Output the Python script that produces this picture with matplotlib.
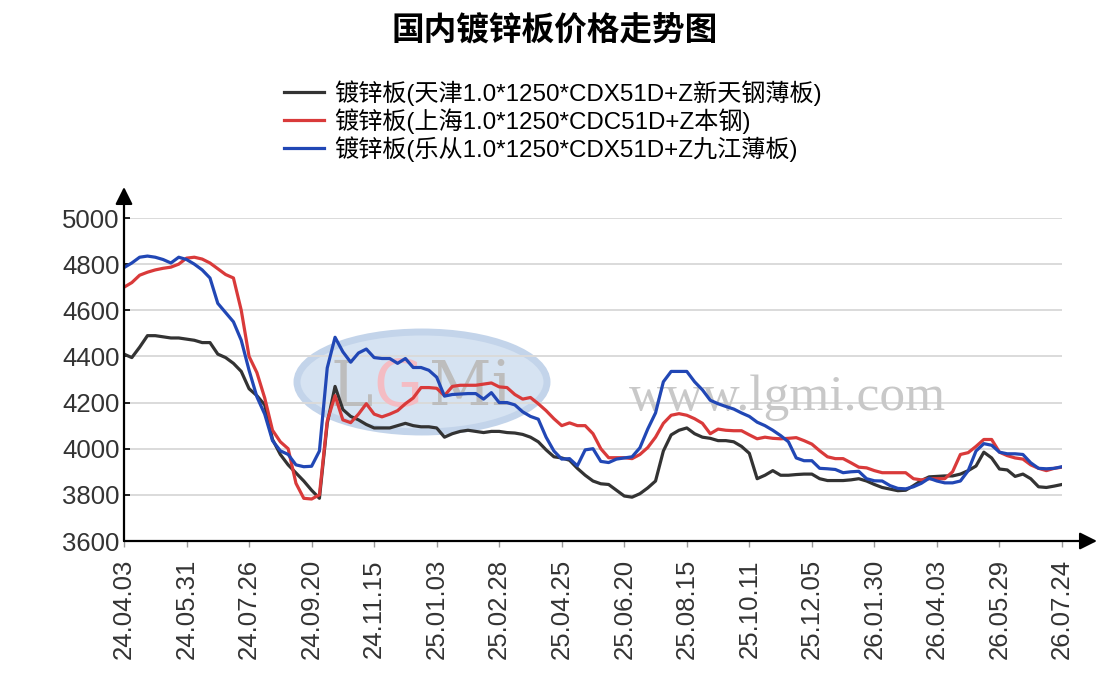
import matplotlib
matplotlib.use("Agg")
import matplotlib.pyplot as plt
from matplotlib.font_manager import FontProperties
from matplotlib.patches import Ellipse

# weekly prices, one point per week, 8 weeks between labelled ticks
tick_labels = ["24.04.03", "24.05.31", "24.07.26", "24.09.20", "24.11.15",
               "25.01.03", "25.02.28", "25.04.25", "25.06.20", "25.08.15",
               "25.10.11", "25.12.05", "26.01.30", "26.04.03", "26.05.29",
               "26.07.24"]

tianjin = [4410, 4395, 4440, 4490, 4490, 4485, 4480, 4480, 4475,
           4470, 4460, 4460, 4410, 4395, 4370, 4335, 4260,
           4230, 4190, 4040, 3975, 3930, 3895, 3860, 3820,
           3785, 4110, 4270, 4170, 4140, 4125, 4105, 4090,
           4090, 4090, 4100, 4110, 4100, 4095, 4095, 4090,
           4050, 4065, 4075, 4080, 4075, 4070, 4075, 4075,
           4070, 4068, 4062, 4050, 4030, 3995, 3965, 3960,
           3950, 3915, 3885, 3860, 3848, 3845, 3820, 3795,
           3790, 3805, 3830, 3860, 3990, 4060, 4080, 4090,
           4065, 4050, 4045, 4035, 4035, 4030, 4010, 3980,
           3870, 3885, 3905, 3885, 3885, 3888, 3890, 3890,
           3870, 3862, 3862, 3862, 3865, 3870, 3860, 3845,
           3832, 3825, 3818, 3820, 3840, 3862, 3878, 3880,
           3882, 3882, 3890, 3905, 3925, 3985, 3960, 3912,
           3908, 3880, 3890, 3870, 3835, 3832, 3838, 3845]

shanghai = [4700, 4720, 4752, 4765, 4775, 4782, 4787, 4800, 4826,
            4830, 4822, 4805, 4780, 4755, 4740, 4600, 4400,
            4330, 4220, 4080, 4030, 4000, 3850, 3785, 3782,
            3800, 4120, 4230, 4125, 4113, 4150, 4195, 4150,
            4138, 4150, 4165, 4195, 4220, 4265, 4265, 4262,
            4230, 4270, 4275, 4275, 4275, 4280, 4285, 4268,
            4265, 4235, 4215, 4222, 4195, 4165, 4130, 4100,
            4112, 4100, 4100, 4065, 4000, 3961, 3961, 3961,
            3957, 3975, 4005, 4050, 4110, 4145, 4152, 4145,
            4130, 4110, 4065, 4085, 4080, 4078, 4078, 4060,
            4043, 4050, 4045, 4043, 4045, 4048, 4035, 4020,
            3991, 3965, 3957, 3957, 3939, 3920, 3917, 3905,
            3896, 3896, 3896, 3896, 3870, 3865, 3870, 3870,
            3870, 3900, 3975, 3983, 4010, 4040, 4040, 3985,
            3970, 3960, 3955, 3930, 3915, 3905, 3915, 3920]

lecong = [4785, 4805, 4830, 4835, 4830, 4820, 4805, 4830, 4820,
          4800, 4775, 4740, 4630, 4590, 4550, 4470, 4340,
          4225, 4150, 4035, 3991, 3975, 3930, 3922, 3924,
          3990, 4350, 4483, 4420, 4375, 4415, 4432, 4395,
          4391, 4391, 4370, 4391, 4352, 4352, 4340, 4310,
          4228, 4235, 4237, 4239, 4239, 4215, 4243, 4200,
          4200, 4190, 4160, 4140, 4128, 4050, 3990, 3955,
          3957, 3926, 3995, 4000, 3945, 3940, 3955, 3960,
          3965, 4004, 4085, 4155, 4290, 4335, 4335, 4335,
          4290, 4255, 4210, 4195, 4183, 4172, 4155, 4140,
          4115, 4100, 4080, 4057, 4030, 3960, 3948, 3948,
          3915, 3913, 3910, 3896, 3900, 3902, 3870, 3861,
          3860, 3840, 3828, 3826, 3835, 3850, 3872, 3860,
          3852, 3852, 3860, 3905, 3990, 4022, 4015, 3985,
          3978, 3978, 3975, 3939, 3915, 3913, 3915, 3922]

series_names = ["镀锌板(天津1.0*1250*CDX51D+Z新天钢薄板)",
                "镀锌板(上海1.0*1250*CDC51D+Z本钢)",
                "镀锌板(乐从1.0*1250*CDX51D+Z九江薄板)"]
colors = ["#333333", "#d93a3a", "#2147b5"]

W, H = 1107, 699
fig = plt.figure(figsize=(W / 100, H / 100), dpi=100)
ax = fig.add_axes([124 / W, 1 - 541 / H, 938 / W, 323 / H])

# watermark, kept under the lines
ft = fig.transFigure
logo = Ellipse((422 / W, 1 - 382 / H), 250 / W, 100 / H, transform=ft,
               facecolor="#d6e3f2", edgecolor="#c3d4ea", lw=5, zorder=0.5, clip_on=False)
ax.add_patch(logo)
ax.text(352 / W, 1 - 388 / H, "L", color="#bdbdbd", fontsize=46, family="DejaVu Serif",
        ha="center", va="center", zorder=0.6, transform=ft)
ax.text(398 / W, 1 - 388 / H, "G", color="#f4bcc3", fontsize=46, family="DejaVu Sans",
        ha="center", va="center", zorder=0.6, transform=ft)
ax.text(470 / W, 1 - 388 / H, "Mi", color="#bdbdbd", fontsize=44, family="DejaVu Serif",
        ha="center", va="center", zorder=0.6, transform=ft)
ax.text(787 / W, 1 - 398 / H, "www.lgmi.com", color="#c8c8c8", fontsize=37,
        family="Liberation Serif", ha="center", va="center", zorder=0.6, transform=ft)

x = list(range(len(tianjin)))
for vals, name, c in zip([tianjin, shanghai, lecong], series_names, colors):
    ax.plot(x, vals, color=c, lw=2.3, label=name, zorder=3)

ax.set_xlim(0, 120)
ax.set_ylim(3600, 5000)
ax.set_yticks(range(3600, 5001, 200))
ax.set_xticks(range(0, 121, 8))
ax.set_xticklabels(tick_labels, rotation=90)
ax.grid(axis="y", color="#dadada", lw=1.4, zorder=0.2)
ax.set_axisbelow(True)
for s in ax.spines.values():
    s.set_visible(False)

tick_font = FontProperties(family="Liberation Sans", size=18.5)
for lab in ax.get_xticklabels() + ax.get_yticklabels():
    lab.set_fontproperties(tick_font)
    lab.set_color("#333333")
ax.tick_params(axis="y", direction="in", length=4, width=1.2, pad=3)
ax.tick_params(axis="x", direction="out", length=4, width=1.0, pad=9, color="#999999")

arrow = dict(arrowstyle="-|>", color="black", lw=1.6, mutation_scale=26, shrinkA=0, shrinkB=0)
ax.annotate("", xy=(0, (541 - 187) / 323), xytext=(0, 0), xycoords="axes fraction",
            arrowprops=arrow, annotation_clip=False)
ax.annotate("", xy=((1097 - 124) / 938, 0), xytext=(0, 0), xycoords="axes fraction",
            arrowprops=arrow, annotation_clip=False)

fig.text(555 / W, 1 - 31 / H, "国内镀锌板价格走势图", ha="center", va="center",
         fontsize=23.5, fontweight="bold", family=["Noto Sans CJK SC", "DejaVu Sans"])

leg_font = FontProperties(family=["Liberation Sans", "Noto Sans CJK SC"], size=17.4)
fig.legend(loc="upper left", bbox_to_anchor=(284 / W, 1 - 80 / H), frameon=False,
           prop=leg_font, handlelength=1.65, handletextpad=0.42, labelspacing=0.1,
           borderaxespad=0, borderpad=0)

fig.savefig("out.png", dpi=100)
